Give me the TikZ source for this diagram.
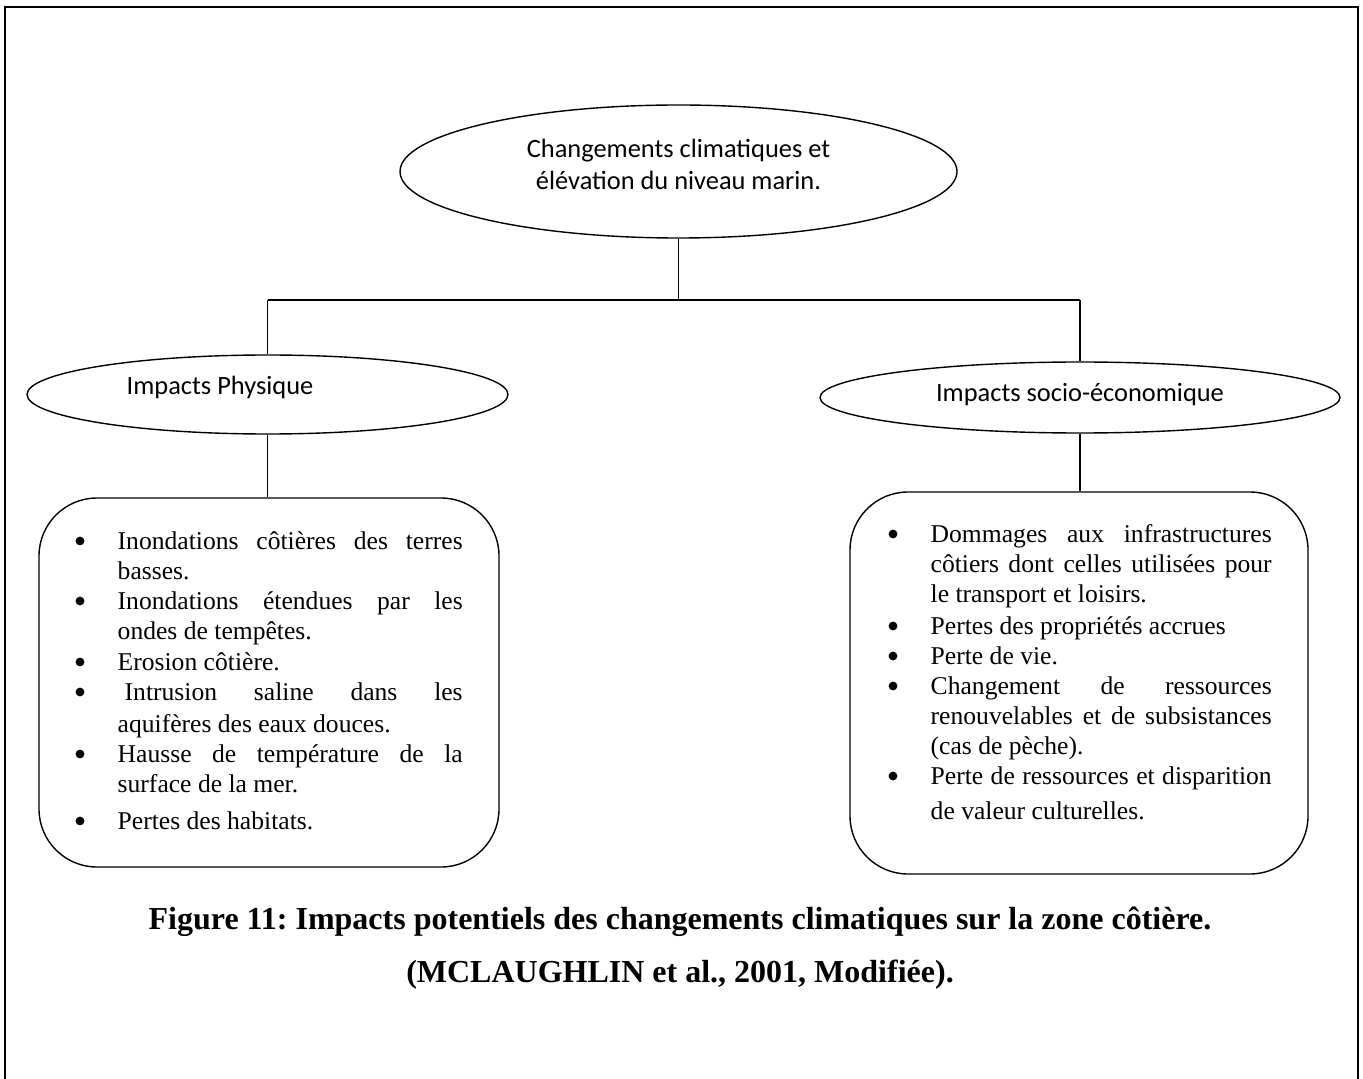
\documentclass[tikz,border=0pt]{standalone}
\usepackage{fontspec}
\setmainfont{Liberation Serif}
\newfontfamily\calib{Carlito}
\usetikzlibrary{shapes.geometric}
\tolerance=9999
\hbadness=10000
\frenchspacing
\begin{document}
\frenchspacing
\begin{tikzpicture}[x=0.5pt,y=-0.5pt,
  line width=0.7pt,
  ell/.style={draw,ellipse,inner sep=0pt},
  ebox/.style={draw,rectangle,rounded corners=29pt,inner sep=0pt},
  etext/.style={font=\calib\fontsize{13.2}{16}\selectfont,align=center,inner sep=0pt},
  itemL/.style={anchor=base west,inner sep=0pt,text width=172.5pt,align=justify,font=\fontsize{12.8}{15}\selectfont},
  itemR/.style={itemL,text width=170.5pt},
  dot/.style={circle,fill=black,inner sep=0pt,minimum size=4.4pt},
  capt/.style={font=\bfseries\fontsize{16}{18}\selectfont\frenchspacing,inner sep=0pt,anchor=base}
]
\useasboundingbox (0,0) rectangle (1363,1079);
\draw[line width=1pt] (5,1095) -- (5,7) -- (1358,7) -- (1358,1095);

% ellipses
\node[ell,minimum width=278.5pt,minimum height=66.5pt] (top) at (678.5,171.5) {};
\node[etext] (toptext) at (678.5,164) {Changements climatiques et\\élévation du niveau marin.};
\node[ell,minimum width=240.5pt,minimum height=39.5pt] (phys) at (267.5,394.5) {};
\node[etext] (phystext) at (220,387) {Impacts Physique};
\node[ell,minimum width=260pt,minimum height=35.5pt] (soc) at (1080,397.5) {};
\node[etext] (soctext) at (1080,395) {Impacts socio-économique};

% boxes
\node[ebox,minimum width=230pt,minimum height=184.5pt] (boxL) at (269,682.5) {};
\node[ebox,minimum width=229pt,minimum height=191pt] (boxR) at (1079,683) {};

% connectors
\coordinate (hm) at (678.5,300);
\coordinate (hl) at (267.5,300);
\coordinate (hr) at (1080,300);
\draw (top.south) -- (hm);
\draw (hl) -- (hr);
\draw (hl) -- (phys.north);
\draw (hr) -- (soc.north);
\draw (phys.south) -- (phys.south |- boxL.north);
\draw (soc.south) -- (soc.south |- boxR.north);

% left items
\node[dot] (bL1) at (80,541) {};
\node[itemL] (iL1) at (117,549) {Inondations côtières des terres\linebreak basses.};
\node[dot] (bL2) at (80,601) {};
\node[itemL] (iL2) at (117,609) {Inondations étendues par les\linebreak ondes de tempêtes.};
\node[dot] (bL3) at (80,662) {};
\node[itemL] (iL3) at (117,670) {Erosion côtière.};
\node[dot] (bL4) at (80,692) {};
\node[itemL,font=\fontsize{12.8}{16}\selectfont] (iL4) at (117,700) {\hspace*{3.5pt}Intrusion saline dans les\linebreak aquifères des eaux douces.};
\node[dot] (bL5) at (80,754) {};
\node[itemL] (iL5) at (117,762) {Hausse de température de la\linebreak surface de la mer.};
\node[dot] (bL6) at (80,821) {};
\node[itemL] (iL6) at (117,829) {Pertes des habitats.};

% right items
\node[dot] (bR1) at (893,534) {};
\node[itemR] (iR1) at (930,542) {Dommages aux infrastructures\linebreak côtiers dont celles utilisées pour\linebreak le transport et loisirs.};
\node[dot] (bR2) at (893,626) {};
\node[itemR] (iR2) at (930,634) {Pertes des propriétés accrues};
\node[dot] (bR3) at (893,656) {};
\node[itemR] (iR3) at (930,664) {Perte de vie.};
\node[dot] (bR4) at (893,686) {};
\node[itemR] (iR4) at (930,694) {Changement de ressources\linebreak renouvelables et de subsistances\linebreak (cas de pèche).};
\node[dot] (bR5) at (893,776) {};
\node[itemR,font=\fontsize{12.8}{17.5}\selectfont] (iR5) at (930,784) {Perte de ressources et disparition\linebreak de valeur culturelles.};

% caption
\node[capt] (cap1) at (680,929) {Figure 11: Impacts potentiels des changements climatiques sur la zone côtière.};
\node[capt] (cap2) at (680,982) {(MCLAUGHLIN et al., 2001, Modifiée).};
\end{tikzpicture}
\end{document}
